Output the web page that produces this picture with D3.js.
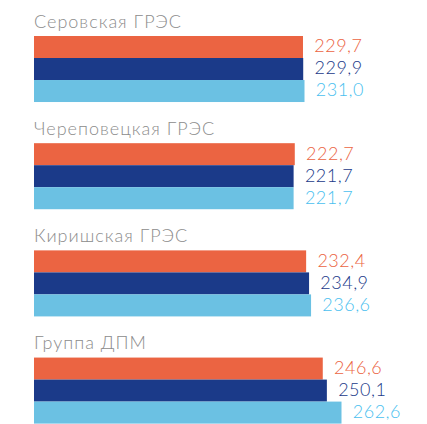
<!DOCTYPE html>
<html>
<head>
<meta charset="utf-8">
<script src="https://cdn.jsdelivr.net/npm/d3@7"></script>
<style>
  html, body { margin: 0; padding: 0; background: #fff; }
  svg text { font-family: Lato, "Open Sans", sans-serif; font-weight: 300; }
</style>
</head>
<body>
<div id="chart"></div>
<script>
// plants
const categories = ['Серовская ГРЭС', 'Череповецкая ГРЭС', 'Киришская ГРЭС', 'Группа ДПМ'];
// three series per plant, top to bottom
const seriesKeys = ['a', 'b', 'c'];
const seriesA = [229.7, 222.7, 232.4, 246.6];
const seriesB = [229.9, 221.7, 234.9, 250.1];
const seriesC = [231.0, 221.7, 236.6, 262.6];

const barColors = ['#EB6442', '#1B3A89', '#6BC1E3'];
const labelColors = ['#EB6442', '#1B3A89', '#4BBFEF'];

const width = 427;
const height = 424;

const svg = d3.select('#chart')
  .append('svg')
  .attr('width', width)
  .attr('height', height);

const x = d3.scaleLinear()
  .domain([0, 300])
  .range([34, 34 + 300 * 1.171]);

const y = d3.scaleBand()
  .domain(categories)
  .range([36, 423.6])
  .paddingInner(0.384)
  .paddingOuter(0);

const ys = d3.scaleBand()
  .domain(seriesKeys)
  .range([0, y.bandwidth()]);

const fmt = v => v.toFixed(1).replace('.', ',');

const rows = categories.map((c, i) => ({
  name: c,
  values: [seriesA[i], seriesB[i], seriesC[i]].map((v, j) => ({ key: seriesKeys[j], value: v, idx: j }))
}));

const groups = svg.selectAll('g.group')
  .data(rows)
  .enter()
  .append('g')
  .attr('class', 'group')
  .attr('transform', d => 'translate(0,' + y(d.name) + ')');

groups.append('text')
  .attr('x', x(0))
  .attr('y', -8.5)
  .style('font-size', '18px')
  .style('letter-spacing', '1px')
  .style('fill', '#8c8c8c')
  .text(d => d.name);

groups.selectAll('rect')
  .data(d => d.values)
  .enter()
  .append('rect')
  .attr('x', x(0))
  .attr('y', d => ys(d.key))
  .attr('width', d => x(d.value) - x(0))
  .attr('height', ys.bandwidth())
  .style('fill', d => barColors[d.idx]);

groups.selectAll('text.value')
  .data(d => d.values)
  .enter()
  .append('text')
  .attr('class', 'value')
  .attr('x', d => x(d.value) + 59.5)
  .attr('y', d => ys(d.key) + ys.bandwidth() / 2 - 1)
  .attr('dy', '0.35em')
  .attr('text-anchor', 'end')
  .style('font-size', '18px')
  .style('letter-spacing', '0.5px')
  .style('fill', d => labelColors[d.idx])
  .text(d => fmt(d.value));
</script>
</body>
</html>
